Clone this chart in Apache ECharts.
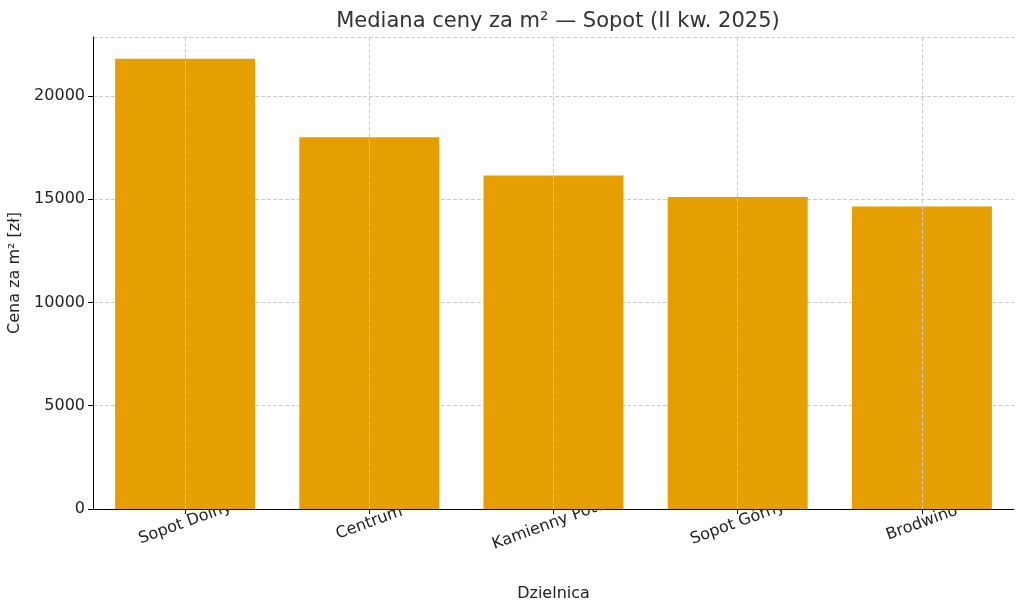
<!DOCTYPE html>
<html><head><meta charset="utf-8">
<script src="https://cdn.jsdelivr.net/npm/echarts@6/dist/echarts.min.js"></script>
<style>html,body{margin:0;padding:0;background:#fff}#c{width:1024px;height:611px}</style>
</head><body><div id="c"></div>
<script>
const categories = ["Sopot Dolny", "Centrum", "Kamienny Potok", "Sopot Górny", "Brodwino"];
const values = [21800, 18000, 16150, 15100, 14650];
const chart = echarts.init(document.getElementById('c'));
const font = 'DejaVu Sans';
chart.setOption({
  animation: false,
  textStyle: {fontFamily: font},
  title: {text: 'Mediana ceny za m² — Sopot (II kw. 2025)', left: 553, top: 6, textAlign: 'center',
    textStyle: {fontFamily: font, fontSize: 21, fontWeight: 'normal', color: '#333'}},
  grid: {left: 93, right: 10, top: 37, bottom: 102, outerBoundsMode: 'none', containLabel: false},
  xAxis: {type: 'category', data: categories, name: 'Dzielnica', nameLocation: 'middle', nameGap: 77,
    nameTextStyle: {fontSize: 16, color: '#222'},
    axisLine: {lineStyle: {color: '#000'}}, axisTick: {show: true, alignWithLabel: true, lineStyle: {color: '#000'}},
    axisLabel: {rotate: 20, fontSize: 16, color: '#222', margin: 14, align: 'center', verticalAlign: 'middle'},
    splitLine: {show: false}},
  yAxis: {type: 'value', min: 0, max: 22850, interval: 5000, name: 'Cena za m² [zł]', nameLocation: 'middle', nameGap: 70,
    nameTextStyle: {fontSize: 16, color: '#222'},
    axisLine: {show: true, lineStyle: {color: '#000'}}, axisTick: {show: true, lineStyle: {color: '#000'}},
    axisLabel: {fontSize: 16, color: '#222', showMaxLabel: false, formatter: v => String(v)},
    splitLine: {show: true, lineStyle: {type: 'dashed', color: '#ccc'}}},
  series: [{type: 'bar', data: values, barWidth: '76%', itemStyle: {color: '#E69F00'}, z: 1,
    markLine: {silent: true, symbol: 'none', label: {show: false}, z: 3,
      lineStyle: {type: 'dashed', color: '#ccc', width: 1},
      data: categories.map(c => ({xAxis: c}))}}]
});
</script></body></html>
